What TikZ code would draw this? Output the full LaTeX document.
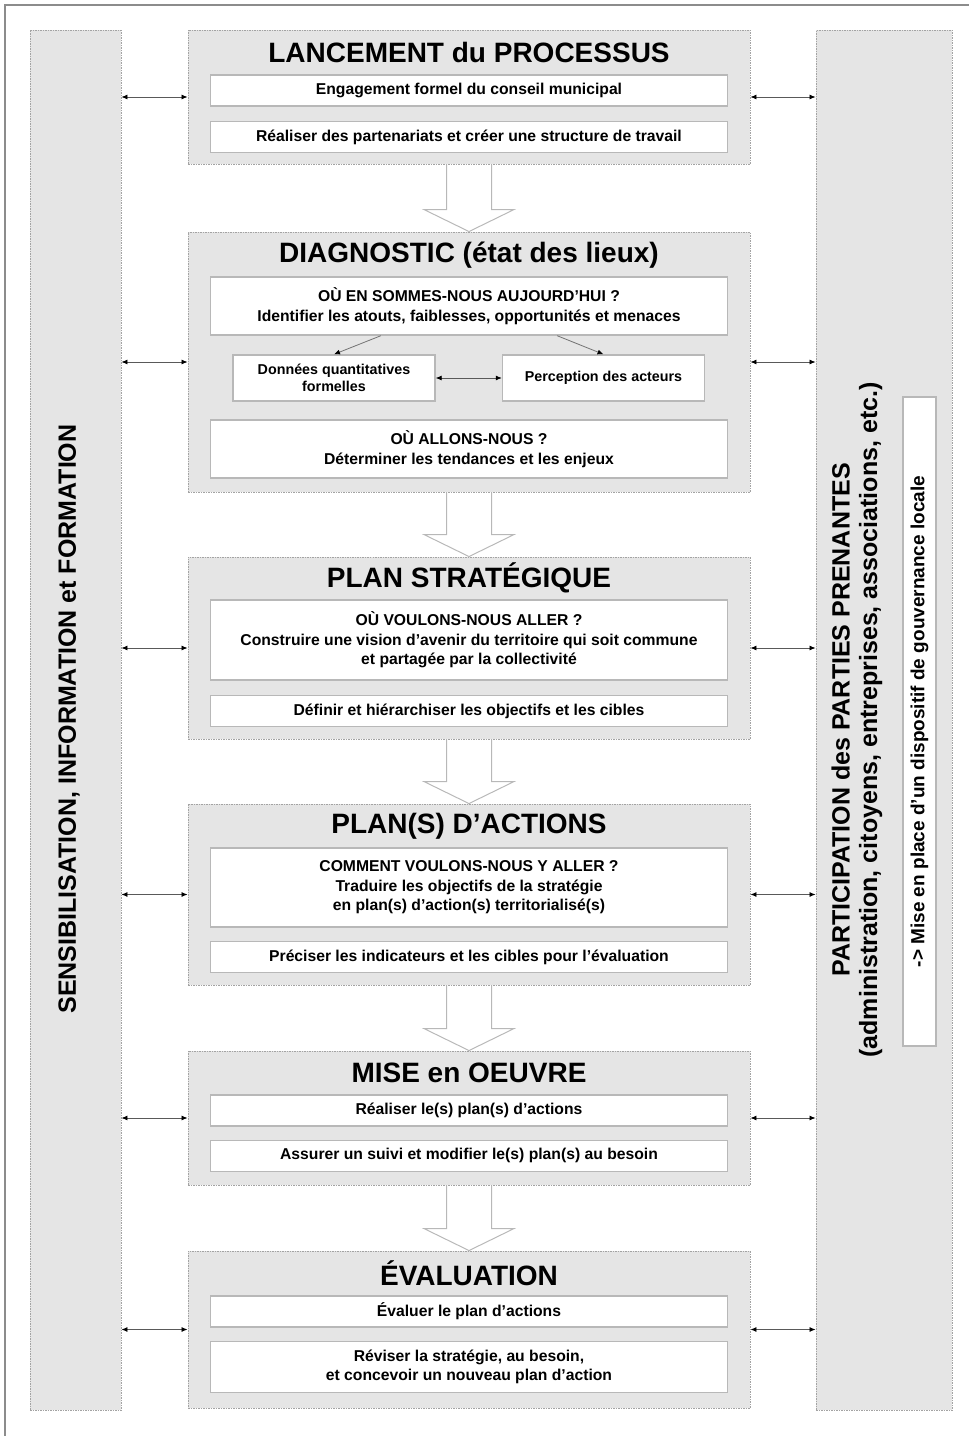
\documentclass[tikz,border=0pt]{standalone}
\usepackage{fontspec}
\setmainfont{Liberation Sans}
\usetikzlibrary{positioning,calc,arrows.meta}

\definecolor{panelgray}{gray}{0.9}
\definecolor{rulegray}{gray}{0.64}
\definecolor{boxgray}{gray}{0.72}
\definecolor{framegray}{gray}{0.55}

\newcommand{\stagearrow}[2]{%
  \draw[hollow] ($(#1.south)+(-22.5,0)$) -- ($(#2.north)+(-22.5,22)$) -- ($(#2.north)+(-45,22)$)
    -- (#2.north) -- ($(#2.north)+(45,22)$) -- ($(#2.north)+(22.5,22)$) -- ($(#1.south)+(22.5,0)$);}

\begin{document}
\begin{tikzpicture}[x=1pt, y=1pt,
    stage/.style={draw=rulegray, fill=panelgray, dash pattern=on 1.5pt off 1pt, line width=0.9pt, minimum width=562, inner sep=0pt},
    column/.style={draw=rulegray, fill=panelgray, dash pattern=on 1.5pt off 1pt, line width=0.9pt, minimum height=1380, inner sep=0pt},
    stitle/.style={font=\fontsize{28}{32}\selectfont\bfseries, inner sep=0pt},
    inbox/.style={draw=boxgray, fill=white, line width=1.4pt, minimum width=517, minimum height=31, align=center, inner sep=0pt, font=\fontsize{15.7}{19.5}\selectfont\bfseries},
    smallbox/.style={inbox, minimum width=202, minimum height=46, font=\fontsize{14.3}{17}\selectfont\bfseries},
    sidetext/.style={rotate=90, align=center, inner sep=0pt, font=\fontsize{25}{27.5}\selectfont\bfseries},
    link/.style={{Latex[length=6pt,width=5pt,black]}-{Latex[length=6pt,width=5pt,black]}, draw=black!65, line width=0.8pt},
    feed/.style={-{Latex[length=6pt,width=5pt,black]}, draw=black!55, line width=0.8pt},
    hollow/.style={draw=boxgray, line width=1pt}]

    \useasboundingbox (0,0) rectangle (969,-1436);
    \draw[framegray, line width=1.2pt] (5,-1436) -- (5,-5) -- (969,-5);

    \node [column, minimum width=91] (lc) at (75.5,-720) {};
    \node [column, minimum width=136] (rc) at (884,-720) {};
    \node [sidetext] (lt) at (69,-719) {SENSIBILISATION, INFORMATION et FORMATION};
    \node [sidetext] (rt) at (857,-720) {PARTICIPATION des PARTIES PRENANTES\\(administration, citoyens, entreprises, associations, etc.)};
    \node [inbox, rotate=90, minimum width=649, minimum height=33, font=\fontsize{19}{22}\selectfont\bfseries] (gov) at (919.5,-721.5) {-> Mise en place d’un dispositif de gouvernance locale};

    \node [stage, minimum height=134] (s1) at (469,-97) {};
    \node [stitle] (t1) at (469,-52) {LANCEMENT du PROCESSUS};
    \node [inbox] (b11) at (469,-90.5) {Engagement formel du conseil municipal};
    \node [inbox, below=14pt of b11] (b12) {Réaliser des partenariats et créer une structure de travail};

    \node [stage, minimum height=260] (s2) at (469,-362) {};
    \node [stitle] (t2) at (469,-255) {DIAGNOSTIC (état des lieux)};
    \node [inbox, minimum height=58] (d1) at (469,-306) {OÙ EN SOMMES-NOUS AUJOURD’HUI ?\\Identifier les atouts, faiblesses, opportunités et menaces};
    \node [smallbox] (dq) at (334,-378) {Données quantitatives\\formelles};
    \node [smallbox] (dp) at (603.5,-378) {Perception des acteurs};
    \node [inbox, minimum height=58] (d3) at (469,-449) {OÙ ALLONS-NOUS ?\\Déterminer les tendances et les enjeux};

    \node [stage, minimum height=182] (s3) at (469,-648) {};
    \node [stitle] (t3) at (469,-578) {PLAN STRATÉGIQUE};
    \node [inbox, minimum height=80] (p1) at (469,-640) {OÙ VOULONS-NOUS ALLER ?\\Construire une vision d’avenir du territoire qui soit commune\\et partagée par la collectivité};
    \node [inbox, below=14pt of p1] (p2) {Définir et hiérarchiser les objectifs et les cibles};

    \node [stage, minimum height=181] (s4) at (469,-894.5) {};
    \node [stitle] (t4) at (469,-826) {PLAN(S) D’ACTIONS};
    \node [inbox, minimum height=79] (a1) at (469,-887.5) {COMMENT VOULONS-NOUS Y ALLER ?\\Traduire les objectifs de la stratégie\\en plan(s) d’action(s) territorialisé(s)};
    \node [inbox, below=13pt of a1] (a2) {Préciser les indicateurs et les cibles pour l’évaluation};

    \node [stage, minimum height=134] (s5) at (469,-1118) {};
    \node [stitle] (t5) at (469,-1073) {MISE en OEUVRE};
    \node [inbox] (m1) at (469,-1110.5) {Réaliser le(s) plan(s) d’actions};
    \node [inbox, below=13pt of m1] (m2) {Assurer un suivi et modifier le(s) plan(s) au besoin};

    \node [stage, minimum height=157] (s6) at (469,-1329.5) {};
    \node [stitle] (t6) at (469,-1273) {ÉVALUATION};
    \node [inbox] (e1) at (469,-1311.5) {Évaluer le plan d’actions};
    \node [inbox, minimum height=51, below=13pt of e1] (e2) {Réviser la stratégie, au besoin,\\et concevoir un nouveau plan d’action};

    \draw[feed] ($(d1.south west)!0.33!(d1.south east)$) -- (dq.north);
    \draw[feed] ($(d1.south west)!0.67!(d1.south east)$) -- (dp.north);
    \draw[link] (dq.east) -- (dp.west);

    \stagearrow{s1}{s2}
    \stagearrow{s2}{s3}
    \stagearrow{s3}{s4}
    \stagearrow{s4}{s5}
    \stagearrow{s5}{s6}

    \foreach \s in {s1,s2,s3,s4,s5,s6} {
        \draw[link] (lc.east |- \s.west) -- (\s.west);
        \draw[link] (\s.east) -- (rc.west |- \s.east);
    }
\end{tikzpicture}
\end{document}
